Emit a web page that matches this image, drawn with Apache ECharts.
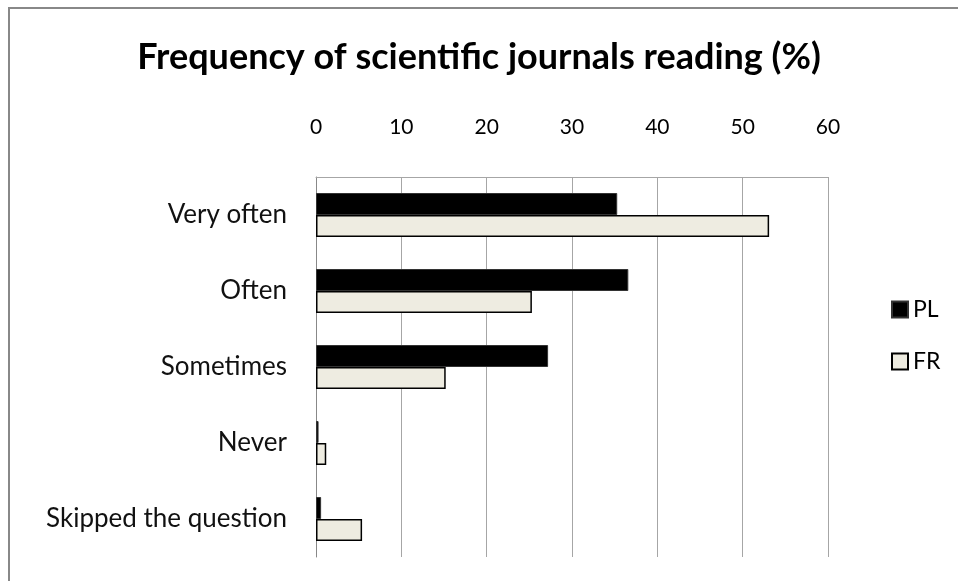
<!DOCTYPE html>
<html>
<head>
<meta charset="utf-8">
<script src="https://cdn.jsdelivr.net/npm/echarts@6/dist/echarts.min.js"></script>
<style>
  html, body { margin: 0; padding: 0; background: #fff; }
  #chart { width: 958px; height: 581px; }
</style>
</head>
<body>
<div id="chart"></div>
<script>
const categories = ['Very often', 'Often', 'Sometimes', 'Never', 'Skipped the question']
const plValues = [35.3, 36.6, 27.2, 0.3, 0.6]
const frValues = [53.1, 25.3, 15.2, 1.2, 5.4]
const xTicks = [0, 10, 20, 30, 40, 50, 60]

const font = 'Lato, "Open Sans", sans-serif'
const chart = echarts.init(document.getElementById('chart'))

const option = {
  backgroundColor: '#fff',
  animation: false,
  title: {
    text: 'Frequency of scientific journals reading (%)',
    left: 'center',
    top: 34,
    textStyle: { fontFamily: font, fontSize: 36, fontWeight: 'bold', color: '#000' }
  },
  graphic: [
    {
      type: 'rect',
      shape: { x: 9, y: 8, width: 1000, height: 1000 },
      style: { fill: 'none', stroke: '#888', lineWidth: 2 },
      silent: true
    }
  ],
  legend: {
    orient: 'vertical',
    left: 886,
    top: 293,
    icon: 'rect',
    itemWidth: 16,
    itemHeight: 16,
    itemGap: 29,
    textStyle: { fontFamily: font, fontSize: 23, lineHeight: 16, color: '#000' },
    data: ['PL', 'FR']
  },
  grid: {
    left: 316,
    right: 130,
    top: 177,
    bottom: 24,
    containLabel: false
  },
  xAxis: {
    type: 'value',
    position: 'top',
    min: xTicks[0],
    max: xTicks[xTicks.length - 1],
    interval: 10,
    axisLine: { show: true, lineStyle: { color: '#a6a6a6', width: 1 } },
    axisTick: { show: false },
    axisLabel: { margin: 39, fontFamily: font, fontSize: 21, color: '#000' },
    splitLine: { show: true, lineStyle: { color: '#a6a6a6', width: 1 } }
  },
  yAxis: {
    type: 'category',
    inverse: true,
    data: categories,
    axisLine: { show: true, lineStyle: { color: '#888', width: 1 } },
    axisTick: { show: false },
    axisLabel: { margin: 29, fontFamily: font, fontSize: 26, color: '#111' }
  },
  series: [
    {
      name: 'PL',
      type: 'bar',
      data: plValues,
      barWidth: 22,
      barGap: '0%',
      itemStyle: { color: '#000', borderColor: '#333', borderWidth: 1 }
    },
    {
      name: 'FR',
      type: 'bar',
      data: frValues,
      barWidth: 22,
      barGap: '0%',
      itemStyle: { color: '#eeece1', borderColor: '#000', borderWidth: 1.5 }
    }
  ]
}

chart.setOption(option)
window.addEventListener('resize', () => chart.resize())
</script>
</body>
</html>
